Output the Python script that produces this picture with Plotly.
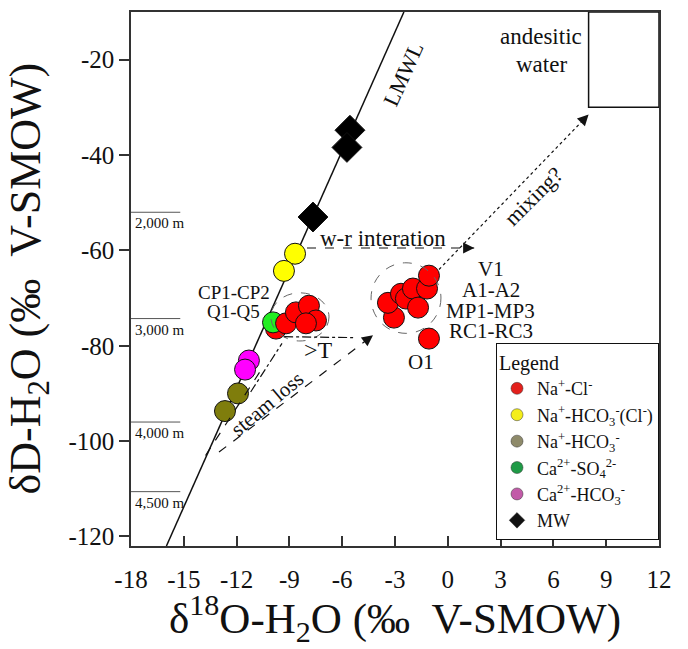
import plotly.graph_objects as go

FONT = "Liberation Serif, Times New Roman, serif"
INK = "#111111"

# ---- sample isotope compositions (δ18O, δD, ‰ V-SMOW) by water type ----
nacl_x = [-9.76, -9.19, -8.63, -7.89, -7.49, -8.06,
          -3.06, -3.40, -2.66, -2.38, -1.98, -1.69, -1.18, -1.07, -1.07]
nacl_y = [-76.4, -75.3, -73.0, -71.6, -74.7, -75.3,
          -74.1, -71.0, -69.1, -70.1, -68.0, -72.0, -68.0, -65.3, -78.5]
nahco3cl_x = [-8.68, -9.31]
nahco3cl_y = [-60.7, -64.3]
nahco3_x = [-11.92, -12.66]
nahco3_y = [-90.0, -93.7]
caso4_x = [-9.93]
caso4_y = [-75.1]
cahco3_x = [-11.30, -11.52]
cahco3_y = [-83.1, -85.0]
mw_x = [-5.56, -5.73, -7.66]
mw_y = [-34.8, -38.4, -53.0]

# local meteoric water line: δD = a·δ18O + b
lmwl_a = 8.3
lmwl_b = 10.7

# equivalent recharge elevations marked on the δD axis
depth_d = [-52.0, -74.3, -96.0, -110.6]
depth_labels = ["2,000 m", "3,000 m", "4,000 m", "4,500 m"]

# andesitic water field
andesitic_x = [8, 12]
andesitic_y = [-30, -10]

x_range = [-18, 12]
y_range = [-122, -10]
x_ticks = [-18, -15, -12, -9, -6, -3, 0, 3, 6, 9, 12]
y_ticks = [-120, -100, -80, -60, -40, -20]

legend_names = ["Na<sup>+</sup>-Cl<sup>-</sup>",
                "Na<sup>+</sup>-HCO<sub>3</sub><sup>-</sup>(Cl<sup>-</sup>)",
                "Na<sup>+</sup>-HCO<sub>3</sub><sup>-</sup>",
                "Ca<sup>2+</sup>-SO<sub>4</sub><sup>2-</sup>",
                "Ca<sup>2+</sup>-HCO<sub>3</sub><sup>-</sup>",
                "MW"]
legend_colors = ["#e3201c", "#f4ee1a", "#8e8a6a", "#1f9a46", "#c25aa8", "#111111"]
legend_symbols = ["circle"] * 5 + ["diamond"]

fig = go.Figure()

# LMWL across the full δD range
lx = [(y - lmwl_b) / lmwl_a for y in y_range]
fig.add_trace(go.Scatter(x=lx, y=y_range, mode="lines",
                         line=dict(color="#111111", width=1.5),
                         showlegend=False, hoverinfo="skip"))


def pts(x, y, color, symbol="circle", size=21):
    fig.add_trace(go.Scatter(x=x, y=y, mode="markers", showlegend=False,
                             marker=dict(color=color, symbol=symbol, size=size,
                                         line=dict(color="#111111", width=1))))


pts(nacl_x[:1], nacl_y[:1], "#ff0000")
pts(caso4_x, caso4_y, "#22ee22")
pts(nacl_x[1:], nacl_y[1:], "#ff0000")
pts(nahco3cl_x, nahco3cl_y, "#ffff00")
pts(nahco3_x, nahco3_y, "#7f7d0c")
pts(cahco3_x, cahco3_y, "#ff00ff")
pts(mw_x, mw_y, "#000000", symbol="diamond", size=23)

# legend-only entries
for name, col, sym in zip(legend_names, legend_colors, legend_symbols):
    fig.add_trace(go.Scatter(x=[None], y=[None], mode="markers", name=name,
                             marker=dict(color=col, symbol=sym, size=12,
                                         line=dict(color="#333333", width=0.5))))

shapes = []
# depth marks on the left edge
for d in depth_d:
    shapes.append(dict(type="line", xref="x", yref="y", x0=-18, x1=-15.2, y0=d, y1=d,
                       line=dict(color="#555555", width=1)))
# andesitic water box
shapes.append(dict(type="rect", xref="x", yref="y", x0=andesitic_x[0], x1=andesitic_x[1],
                   y0=andesitic_y[0], y1=andesitic_y[1], line=dict(color="#111111", width=1.5)))
# dashed envelopes around the Na-Cl groups
shapes.append(dict(type="circle", xref="x", yref="y", x0=-10.05, x1=-6.75, y0=-79.0, y1=-68.9,
                   line=dict(color="#666666", width=1, dash="dash")))
shapes.append(dict(type="circle", xref="x", yref="y", x0=-4.36, x1=-0.39, y0=-77.4, y1=-62.6,
                   line=dict(color="#666666", width=1, dash="dash")))

# process trends: (x0, y0, x1, y1, dash)
trends = [
    (-8.0, -59.5, 1.5, -59.5, "dash"),          # water-rock interaction
    (-0.5, -64.0, 8.0, -31.5, "dot"),           # mixing
    (-10.7, -85.6, -13.85, -103.5, "dash"),     # steam loss
    (-13.0, -102.3, -4.25, -77.8, "dash"),
    (-11.2, -89.7, -9.42, -79.5, "dashdot"),
    (-9.3, -78.1, -5.22, -78.3, "dashdot"),     # temperature
]
annotations = []
for x0, y0, x1, y1, dash in trends:
    shapes.append(dict(type="line", xref="x", yref="y", x0=x0, y0=y0, x1=x1, y1=y1,
                       line=dict(color="#111111", width=1.2, dash=dash)))
    annotations.append(dict(x=x1, y=y1, ax=x1 - 0.03 * (x1 - x0), ay=y1 - 0.03 * (y1 - y0),
                            xref="x", yref="y", axref="x", ayref="y", text="",
                            showarrow=True, arrowhead=2, arrowsize=1.7, arrowwidth=1.3,
                            arrowcolor="#111111"))


def label(x, y, text, size=21, angle=0, xanchor="center"):
    annotations.append(dict(x=x, y=y, xref="x", yref="y", text=text, showarrow=False,
                            textangle=angle, xanchor=xanchor,
                            font=dict(family=FONT, size=size, color=INK)))


for d, t in zip(depth_d, depth_labels):
    annotations.append(dict(x=-17.9, y=d, xref="x", yref="y", text=t, showarrow=False,
                            xanchor="left", yanchor="top", yshift=-1,
                            font=dict(family=FONT, size=15, color=INK)))

label(5.3, -15.2, "andesitic", size=23)
label(5.3, -21.0, "water", size=23)
label(-2.49, -23.0, "LMWL", size=22, angle=-65.6)
label(-3.68, -57.4, "w-r interation", size=23)
label(4.84, -48.6, "mixing?", size=22, angle=-45)
label(-10.27, -92.3, "steam loss", size=21, angle=-40)
label(-7.32, -80.8, "&gt;T", size=24)
label(-12.15, -68.9, "CP1-CP2", size=19)
label(-12.15, -72.9, "Q1-Q5", size=19)
label(2.45, -63.9, "V1")
label(2.45, -68.4, "A1-A2")
label(2.45, -72.7, "MP1-MP3")
label(2.45, -76.9, "RC1-RC3")
label(-1.52, -83.5, "O1")

# axis titles
annotations.append(dict(x=0.5, y=0, xref="paper", yref="paper", yanchor="top",
                        yshift=-40,
                        text="δ<sup>18</sup>O-H<sub>2</sub>O (‰\u00a0\u00a0V-SMOW)", showarrow=False,
                        font=dict(family=FONT, size=43, color=INK)))
annotations.append(dict(x=0, y=0.5, xref="paper", yref="paper", xanchor="right",
                        xshift=-74,
                        text="δD-H<sub>2</sub>O (‰\u00a0\u00a0V-SMOW)", showarrow=False, textangle=-90,
                        font=dict(family=FONT, size=44, color=INK)))

axis_common = dict(showline=True, linecolor="#333333", linewidth=1.5, mirror=True,
                   ticklen=10, tickwidth=1.5, tickcolor="#333333",
                   showgrid=False, zeroline=False,
                   tickfont=dict(family=FONT, size=25, color=INK))

fig.update_layout(
    width=688, height=649,
    margin=dict(l=131, r=29, t=10, b=103),
    paper_bgcolor="white", plot_bgcolor="white",
    xaxis=dict(range=x_range, tickvals=x_ticks, ticktext=[str(v) for v in x_ticks],
               ticks="inside", ticklabelstandoff=10, **axis_common),
    yaxis=dict(range=y_range, tickvals=y_ticks, ticktext=[str(v) for v in y_ticks],
               ticks="outside", **axis_common),
    shapes=shapes,
    annotations=annotations,
    showlegend=True,
    legend=dict(x=1, y=0.011, xanchor="right", yanchor="bottom",
                bgcolor="white", bordercolor="#111111", borderwidth=1,
                title=dict(text="Legend", font=dict(family=FONT, size=20, color=INK)),
                font=dict(family=FONT, size=18, color=INK),
                itemwidth=30, tracegroupgap=0),
)

fig.write_html("out.html")
